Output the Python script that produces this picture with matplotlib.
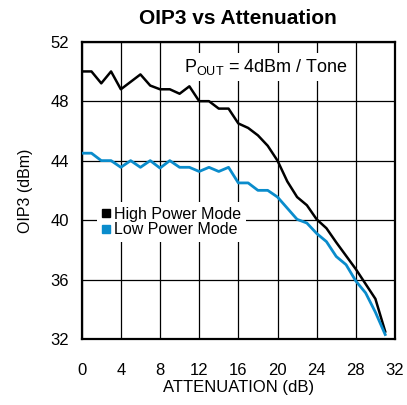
import matplotlib
matplotlib.use('Agg')
import matplotlib.pyplot as plt
from matplotlib.lines import Line2D

# 衰减值 (dB)
atten = list(range(0, 32))
# 高功率模式 OIP3
highPower = [50.0, 50.0, 49.2, 50.0, 48.8, 49.3, 49.8, 49.05, 48.8, 48.8,
             48.5, 49.0, 48.0, 48.0, 47.5, 47.5, 46.5, 46.2, 45.7, 45.0,
             44.0, 42.6, 41.55, 41.0, 40.05, 39.45, 38.5, 37.6, 36.7, 35.7,
             34.7, 32.5]
# 低功率模式 OIP3
lowPower = [44.5, 44.5, 44.0, 44.0, 43.55, 44.0, 43.55, 44.0, 43.5, 44.0,
            43.55, 43.55, 43.27, 43.55, 43.27, 43.55, 42.5, 42.5, 42.0, 42.0,
            41.55, 40.8, 40.05, 39.8, 39.1, 38.55, 37.55, 37.0, 35.9, 35.1,
            33.8, 32.3]
xTicks = [0, 4, 8, 12, 16, 20, 24, 28, 32]
yTicks = [32, 36, 40, 44, 48, 52]

blue = '#0a8ccc'
plt.rcParams['font.family'] = ['Liberation Sans', 'DejaVu Sans']

fig = plt.figure(figsize=(4.07, 4.05), dpi=100, facecolor='w')
ax = fig.add_axes([0.2007, 0.163, 0.7698, 0.734])

ax.plot(atten, highPower, color='black', linewidth=1.8, zorder=3)
ax.plot(atten, lowPower, color=blue, linewidth=2.0, zorder=3)

ax.set_xlim(0, 32)
ax.set_ylim(32, 52)
ax.set_xticks(xTicks)
ax.set_yticks(yTicks)
ax.tick_params(axis='both', length=0, labelsize=12)
ax.tick_params(axis='x', pad=17)
ax.tick_params(axis='y', pad=9)
ax.grid(color='black', linewidth=0.9, zorder=1)
ax.set_axisbelow(True)
for s in ax.spines.values():
    s.set_linewidth(1.6)

ax.set_title('OIP3 vs Attenuation', fontsize=15, fontweight='bold', pad=12.5)
ax.set_xlabel('ATTENUATION (dB)', fontsize=12, labelpad=2)
ax.set_ylabel('OIP3 (dBm)', fontsize=11.5)
ax.yaxis.set_label_coords(-0.155, 0.5)

ax.text(10.5, 49.95, r'P$_{\mathregular{OUT}}$ = 4dBm / Tone', fontsize=13,
        bbox=dict(facecolor='white', edgecolor='none', pad=3), zorder=2)

handles = [Line2D([], [], marker='s', linestyle='none', color='black', markersize=5.5),
           Line2D([], [], marker='s', linestyle='none', color=blue, markersize=5.5)]
leg = ax.legend(handles, ['High Power Mode', 'Low Power Mode'], loc='upper left',
                bbox_to_anchor=(0.05, 0.46), fontsize=11.5, frameon=True,
                fancybox=False, edgecolor='none', framealpha=1,
                handlelength=0.5, handletextpad=0.25, borderpad=0.3,
                labelspacing=0.02, borderaxespad=0)
leg.set_zorder(2)

plt.savefig('out.png', dpi=100)
